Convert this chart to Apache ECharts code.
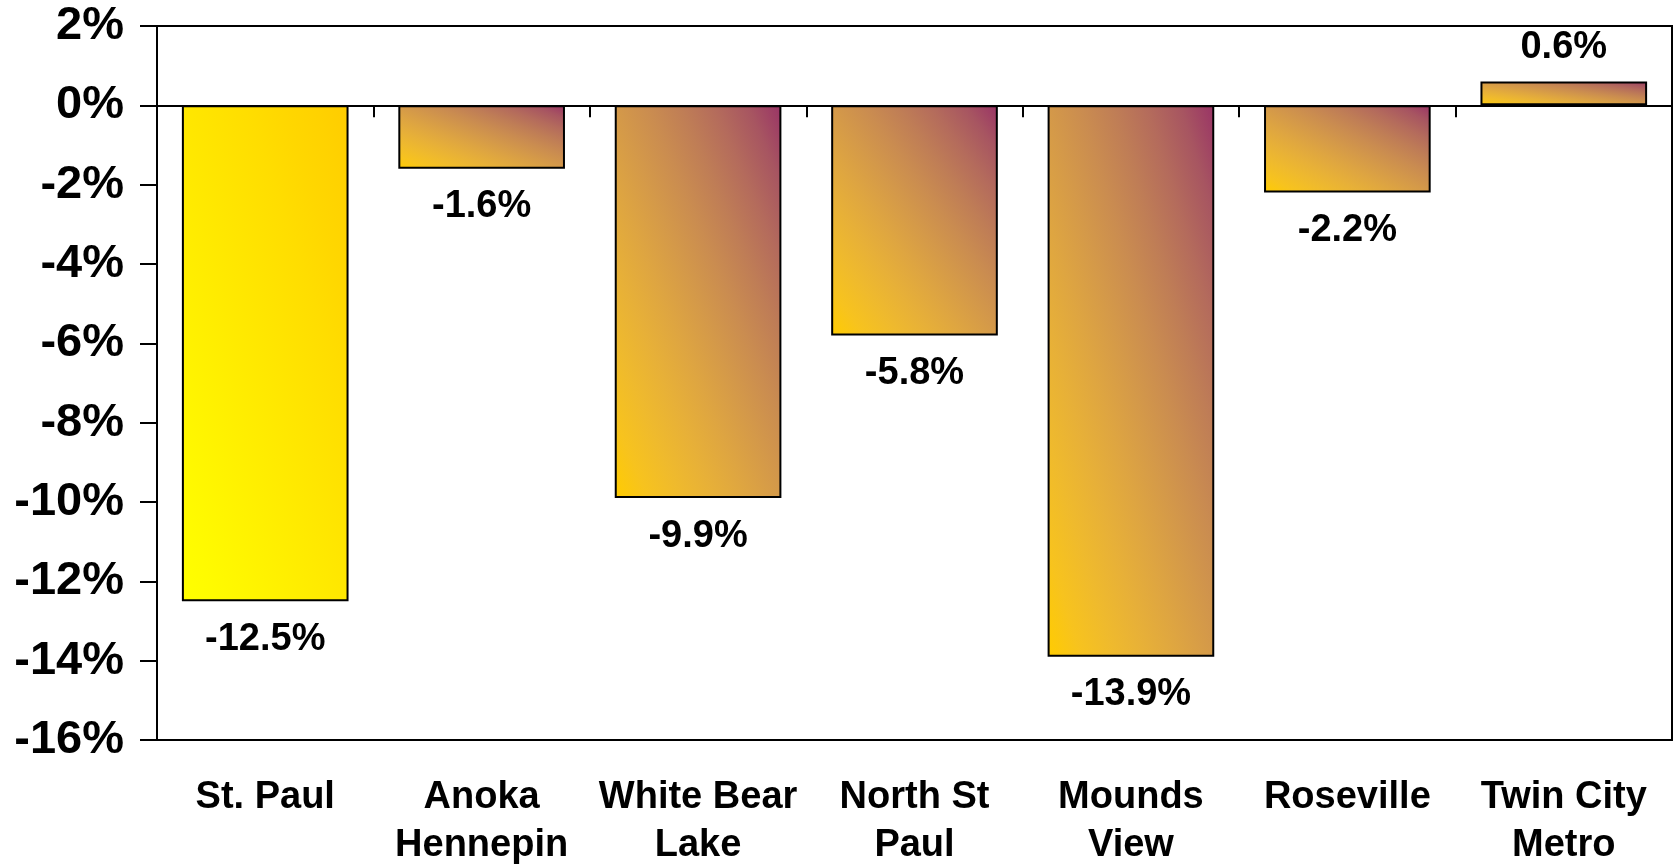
<!DOCTYPE html>
<html>
<head>
<meta charset="utf-8">
<script src="https://cdn.jsdelivr.net/npm/echarts@6/dist/echarts.min.js"></script>
<style>
html,body{margin:0;padding:0;background:#fff;}
#chart{width:1676px;height:865px;}
</style>
</head>
<body>
<div id="chart"></div>
<script>
const categories = ['St. Paul', 'Anoka\nHennepin', 'White Bear\nLake', 'North St\nPaul', 'Mounds\nView', 'Roseville', 'Twin City\nMetro'];
const values = [-12.5, -1.6, -9.9, -5.8, -13.9, -2.2, 0.6];
const yTicks = { min: -16, max: 2, interval: 2 };

const FONT = "'Liberation Sans', Arial, sans-serif";

// gradient stops interpolated in linear light (like Office gradients)
function toLin(c) { c /= 255; return c <= 0.04045 ? c / 12.92 : Math.pow((c + 0.055) / 1.055, 2.4); }
function toSrgb(l) { const c = l <= 0.0031308 ? l * 12.92 : 1.055 * Math.pow(l, 1 / 2.4) - 0.055; return Math.round(Math.max(0, Math.min(1, c)) * 255); }
function hexRgb(h) { return [parseInt(h.slice(1, 3), 16), parseInt(h.slice(3, 5), 16), parseInt(h.slice(5, 7), 16)]; }
function makeStops(c0, c1) {
  const a = hexRgb(c0).map(toLin), b = hexRgb(c1).map(toLin);
  const stops = [];
  for (let k = 0; k <= 10; k++) {
    const t = k / 10;
    const rgb = a.map((v, j) => toSrgb(v + (b[j] - v) * t));
    stops.push({ offset: t, color: 'rgb(' + rgb.join(',') + ')' });
  }
  return stops;
}
const STOPS_FIRST = makeStops('#FFFF00', '#FFCC00');
const STOPS_OTHER = makeStops('#FFCC00', '#993366');

// Diagonal gradient (bottom-left -> top-right) scaled with the bar shape.
function barColor(i, w, h) {
  const stops = i === 0 ? STOPS_FIRST : STOPS_OTHER;
  if (!w || !h) return new echarts.graphic.LinearGradient(0, 1, 1, 0, stops);
  const s = h * h + w * w;
  return new echarts.graphic.LinearGradient(0, 1, 2 * h * h / s, (h * h - w * w) / s, stops);
}

const chart = echarts.init(document.getElementById('chart'), null, { renderer: 'canvas' });

function buildData(sizes) {
  return values.map((v, i) => ({
    value: v,
    itemStyle: { color: barColor(i, sizes ? sizes[i][0] : 0, sizes ? sizes[i][1] : 0), borderColor: '#000', borderWidth: 2 },
    label: { position: v < 0 ? 'bottom' : 'top', distance: v < 0 ? 19 : 15 }
  }));
}

chart.setOption({
  animation: false,
  backgroundColor: '#ffffff',
  grid: { left: 157, right: 4, top: 26, bottom: 125, outerBoundsMode: 'none', containLabel: false, show: true, borderColor: '#000', borderWidth: 2, backgroundColor: 'transparent' },
  xAxis: [
    {
      type: 'category', data: categories, position: 'top',
      axisLine: { show: true, onZero: true, lineStyle: { color: '#000', width: 2 } },
      axisTick: { show: true, inside: true, length: 12, lineStyle: { color: '#000', width: 2 } },
      axisLabel: { show: false },
      splitLine: { show: false }
    },
    {
      type: 'category', data: categories, position: 'bottom',
      axisLine: { show: false, onZero: false },
      axisTick: { show: false },
      axisLabel: { show: true, interval: 0, margin: 34, fontSize: 38, fontWeight: 'bold', lineHeight: 48, color: '#000', fontFamily: FONT },
      splitLine: { show: false }
    }
  ],
  yAxis: {
    type: 'value', min: yTicks.min, max: yTicks.max, interval: yTicks.interval,
    axisLine: { show: true, lineStyle: { color: '#000', width: 2 } },
    axisTick: { show: true, length: 17, lineStyle: { color: '#000', width: 2 } },
    axisLabel: { formatter: '{value}%', fontSize: 47, fontWeight: 'bold', color: '#000', fontFamily: FONT, margin: 33 },
    splitLine: { show: false }
  },
  series: [{
    type: 'bar',
    xAxisIndex: 0,
    barCategoryGap: '23%',
    data: buildData(null),
    label: {
      show: true,
      formatter: p => p.value.toFixed(1) + '%',
      fontSize: 38, fontWeight: 'bold', color: '#000', fontFamily: FONT
    }
  }]
});

// Measure bars through the library's layout, then apply shape-scaled gradients.
const seriesData = chart.getModel().getSeriesByIndex(0).getData();
const sizes = values.map((v, i) => {
  const l = seriesData.getItemLayout(i);
  return [Math.abs(l.width), Math.abs(l.height)];
});
chart.setOption({ series: [{ data: buildData(sizes) }] });
</script>
</body>
</html>
